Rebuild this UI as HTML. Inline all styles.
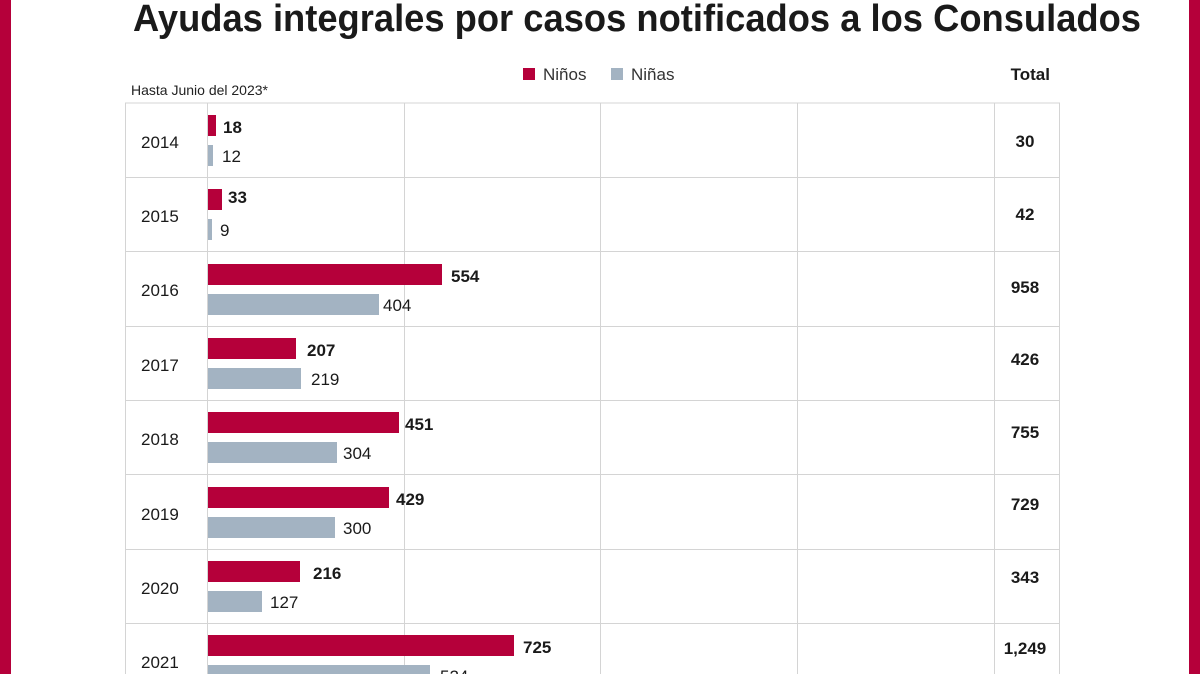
<!DOCTYPE html>
<html><head><meta charset="utf-8"><style>
html,body{margin:0;padding:0;background:#fff;}
svg{display:block;font-family:"Liberation Sans",sans-serif;}
</style></head><body>
<svg width="1200" height="674" viewBox="0 0 1200 674" xmlns="http://www.w3.org/2000/svg">
<rect x="0" y="0" width="1200" height="674" fill="#fff"/>
<rect x="0" y="0" width="11" height="674" fill="#b5003a"/>
<rect x="1189" y="0" width="11" height="674" fill="#b5003a"/>
<text x="133" y="31" font-size="38" font-weight="bold" fill="#1a1a1a" textLength="1008" lengthAdjust="spacingAndGlyphs">Ayudas integrales por casos notificados a los Consulados</text>
<text x="131" y="95" font-size="14" fill="#222">Hasta Junio del 2023*</text>
<rect x="523" y="68" width="12" height="12" fill="#b5003a"/>
<text x="543" y="80" font-size="17" fill="#333">Niños</text>
<rect x="611" y="68" width="12" height="12" fill="#a3b3c2"/>
<text x="631" y="80" font-size="17" fill="#333">Niñas</text>
<text x="1050" y="80" font-size="17" font-weight="bold" fill="#1a1a1a" text-anchor="end">Total</text>
<g stroke="#d4d4d4" stroke-width="1">
<line x1="125" y1="103" x2="1060" y2="103"/>
<line x1="125.5" y1="103" x2="125.5" y2="674"/>
<line x1="207.5" y1="103" x2="207.5" y2="674"/>
<line x1="404.5" y1="103" x2="404.5" y2="674"/>
<line x1="600.5" y1="103" x2="600.5" y2="674"/>
<line x1="797.5" y1="103" x2="797.5" y2="674"/>
<line x1="994.5" y1="103" x2="994.5" y2="674"/>
<line x1="1059.5" y1="103" x2="1059.5" y2="674"/>
<line x1="125" y1="177.5" x2="1060" y2="177.5"/>
<line x1="125" y1="251.5" x2="1060" y2="251.5"/>
<line x1="125" y1="326.5" x2="1060" y2="326.5"/>
<line x1="125" y1="400.5" x2="1060" y2="400.5"/>
<line x1="125" y1="474.5" x2="1060" y2="474.5"/>
<line x1="125" y1="549.5" x2="1060" y2="549.5"/>
<line x1="125" y1="623.5" x2="1060" y2="623.5"/>
</g>
<g font-size="17" fill="#1a1a1a">
<!-- rows: start y = 103 + i*74.3 -->
<g transform="translate(0,103)">
<text x="141" y="45">2014</text>
<rect x="208" y="12" width="8" height="21" fill="#b5003a"/><text x="223" y="30" font-weight="bold">18</text>
<rect x="208" y="42" width="5" height="21" fill="#a3b3c2"/><text x="222" y="59">12</text>
<text x="1025" y="44" font-weight="bold" text-anchor="middle">30</text>
</g>
<g transform="translate(0,177)">
<text x="141" y="45">2015</text>
<rect x="208" y="12" width="14" height="21" fill="#b5003a"/><text x="228" y="26" font-weight="bold">33</text>
<rect x="208" y="42" width="4" height="21" fill="#a3b3c2"/><text x="220" y="59">9</text>
<text x="1025" y="43" font-weight="bold" text-anchor="middle">42</text>
</g>
<g transform="translate(0,251)">
<text x="141" y="45">2016</text>
<rect x="208" y="13" width="234" height="21" fill="#b5003a"/><text x="451" y="31" font-weight="bold">554</text>
<rect x="208" y="43" width="171" height="21" fill="#a3b3c2"/><text x="383" y="60">404</text>
<text x="1025" y="42" font-weight="bold" text-anchor="middle">958</text>
</g>
<g transform="translate(0,326)">
<text x="141" y="45">2017</text>
<rect x="208" y="12" width="88" height="21" fill="#b5003a"/><text x="307" y="30" font-weight="bold">207</text>
<rect x="208" y="42" width="93" height="21" fill="#a3b3c2"/><text x="311" y="59">219</text>
<text x="1025" y="39" font-weight="bold" text-anchor="middle">426</text>
</g>
<g transform="translate(0,400)">
<text x="141" y="45">2018</text>
<rect x="208" y="12" width="191" height="21" fill="#b5003a"/><text x="405" y="30" font-weight="bold">451</text>
<rect x="208" y="42" width="129" height="21" fill="#a3b3c2"/><text x="343" y="59">304</text>
<text x="1025" y="38" font-weight="bold" text-anchor="middle">755</text>
</g>
<g transform="translate(0,475)">
<text x="141" y="45">2019</text>
<rect x="208" y="12" width="181" height="21" fill="#b5003a"/><text x="396" y="30" font-weight="bold">429</text>
<rect x="208" y="42" width="127" height="21" fill="#a3b3c2"/><text x="343" y="59">300</text>
<text x="1025" y="35" font-weight="bold" text-anchor="middle">729</text>
</g>
<g transform="translate(0,549)">
<text x="141" y="45">2020</text>
<rect x="208" y="12" width="92" height="21" fill="#b5003a"/><text x="313" y="30" font-weight="bold">216</text>
<rect x="208" y="42" width="54" height="21" fill="#a3b3c2"/><text x="270" y="59">127</text>
<text x="1025" y="34" font-weight="bold" text-anchor="middle">343</text>
</g>
<g transform="translate(0,623)">
<text x="141" y="45">2021</text>
<rect x="208" y="12" width="306" height="21" fill="#b5003a"/><text x="523" y="30" font-weight="bold">725</text>
<rect x="208" y="42" width="222" height="21" fill="#a3b3c2"/><text x="440" y="59">524</text>
<text x="1025" y="31" font-weight="bold" text-anchor="middle">1,249</text>
</g>
</g>
</svg>
</body></html>
